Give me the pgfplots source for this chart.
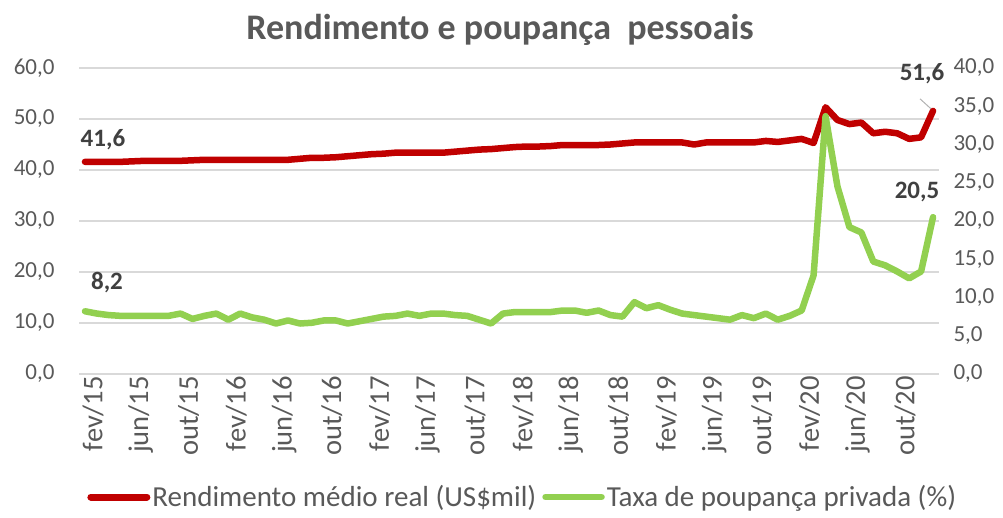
\documentclass[border=0pt]{standalone}
\usepackage{pgfplots}
\pgfplotsset{compat=1.18}
\usepackage{pgfplotstable}
\usepackage{fontspec}
\setmainfont{Carlito}
\definecolor{myred}{HTML}{C00000}
\definecolor{mygreen}{HTML}{92D050}
\definecolor{txt}{HTML}{595959}
\definecolor{lbl}{HTML}{404040}
\definecolor{grd}{HTML}{D9D9D9}

\pgfplotstableread{
i v
0 41.6
1 41.6
2 41.6
3 41.6
4 41.7
5 41.8
6 41.8
7 41.8
8 41.8
9 41.9
10 42.0
11 42.0
12 42.0
13 42.0
14 42.0
15 42.0
16 42.0
17 42.0
18 42.2
19 42.4
20 42.4
21 42.5
22 42.7
23 42.9
24 43.1
25 43.2
26 43.4
27 43.4
28 43.4
29 43.4
30 43.4
31 43.6
32 43.8
33 44.0
34 44.1
35 44.3
36 44.5
37 44.6
38 44.6
39 44.7
40 44.9
41 44.9
42 44.9
43 44.9
44 45.0
45 45.2
46 45.4
47 45.4
48 45.4
49 45.4
50 45.4
51 45.0
52 45.4
53 45.4
54 45.4
55 45.4
56 45.4
57 45.7
58 45.5
59 45.8
60 46.1
61 45.3
62 52.3
63 49.8
64 49.0
65 49.3
66 47.2
67 47.5
68 47.2
69 46.1
70 46.4
71 51.6
}\rendimento

\pgfplotstableread{
i v
0 8.2
1 7.9
2 7.7
3 7.6
4 7.6
5 7.6
6 7.6
7 7.6
8 7.9
9 7.2
10 7.6
11 7.9
12 7.1
13 7.9
14 7.4
15 7.1
16 6.6
17 7.0
18 6.6
19 6.7
20 7.0
21 7.0
22 6.6
23 6.9
24 7.2
25 7.5
26 7.6
27 7.9
28 7.6
29 7.9
30 7.9
31 7.7
32 7.6
33 7.1
34 6.6
35 7.9
36 8.1
37 8.1
38 8.1
39 8.1
40 8.3
41 8.3
42 8.0
43 8.3
44 7.7
45 7.5
46 9.4
47 8.6
48 9.0
49 8.4
50 7.9
51 7.7
52 7.5
53 7.3
54 7.1
55 7.7
56 7.3
57 7.9
58 7.1
59 7.6
60 8.3
61 12.9
62 33.7
63 24.5
64 19.2
65 18.5
66 14.7
67 14.2
68 13.4
69 12.5
70 13.4
71 20.5
}\poupanca

\pgfplotsset{
  common/.style={
    at={(79pt,143pt)}, anchor=south west,
    scale only axis, width=860pt, height=306pt,
    xmin=-0.5, xmax=71.5, ymin=0, clip=false,
    /pgf/number format/.cd, fixed, fixed zerofill, precision=1, use comma, assume math mode=true,
    /pgfplots/.cd,
    tick label style={font=\fontsize{23}{26}\selectfont, text=txt},
    y axis line style={draw=none},
    ytick style={draw=none},
  }
}

\begin{document}
\begin{tikzpicture}[x=1pt,y=1pt]
\useasboundingbox (0,0) rectangle (1003,517);
\node[font=\fontsize{36}{40}\selectfont\bfseries, text=txt] at (500,487) {Rendimento e poupança\ \ pessoais};

\begin{axis}[common,
  ymax=60, ytick={0,10,...,60},
  axis x line*=bottom, axis y line*=left,
  ymajorgrids, grid style={grd, line width=1.3pt},
  x axis line style={grd, line width=1.3pt},
  xtick={0,4,...,68},
  xticklabels={fev/15,jun/15,out/15,fev/16,jun/16,out/16,fev/17,jun/17,out/17,fev/18,jun/18,out/18,fev/19,jun/19,out/19,fev/20,jun/20,out/20},
  xticklabel style={rotate=90, anchor=east, font=\fontsize{28.5}{30}\selectfont, text=txt, inner sep=2pt, yshift=-8pt},
  xtick style={draw=none},
  extra x ticks={-0.5,3.5,...,71.5},
  extra x tick labels={},
  extra x tick style={major tick length=9pt, tick align=outside, tick style={grd, line width=1.3pt, draw=grd}},
  yticklabel style={xshift=-21pt},
]
\addplot[myred, line width=6.5pt, line join=round, line cap=round] table[x=i,y=v] {\rendimento};
\node[font=\fontsize{25}{28}\selectfont\bfseries, text=lbl] at ([xshift=18pt,yshift=22pt]axis cs:0,41.6) {41,6};
\node[font=\fontsize{25}{28}\selectfont\bfseries, text=lbl] at ([xshift=-11pt,yshift=37pt]axis cs:71,51.6) {51,6};
\draw[gray!60, line width=1pt] ([xshift=-13pt,yshift=12pt]axis cs:71,51.6) -- ([xshift=-2pt,yshift=2pt]axis cs:71,51.6);
\end{axis}

\begin{axis}[common,
  ymax=40, ytick={0,5,...,40},
  axis y line*=right, hide x axis,
  yticklabel style={xshift=11pt},
  legend style={at={(0.516,-0.402)}, anchor=center, draw=none, fill=none,
    font=\fontsize{29}{32}\selectfont, text=txt, legend columns=2,
    /tikz/every even column/.append style={column sep=4pt},
    inner sep=0pt},
  legend image code/.code={\draw[#1, line cap=round] (0pt,0pt) -- (56pt,0pt);},
]
\addlegendimage{myred, line width=7pt}
\addlegendentry{Rendimento médio real (US\$mil)}
\addplot[mygreen, line width=6.5pt, line join=round, line cap=round] table[x=i,y=v] {\poupanca};
\addlegendentry{Taxa de poupança privada (\%)}
\node[font=\fontsize{25}{28}\selectfont\bfseries, text=lbl] at ([xshift=22pt,yshift=29pt]axis cs:0,8.2) {8,2};
\node[font=\fontsize{25}{28}\selectfont\bfseries, text=lbl] at ([xshift=-16pt,yshift=25pt]axis cs:71,20.5) {20,5};
\end{axis}
\end{tikzpicture}
\end{document}
